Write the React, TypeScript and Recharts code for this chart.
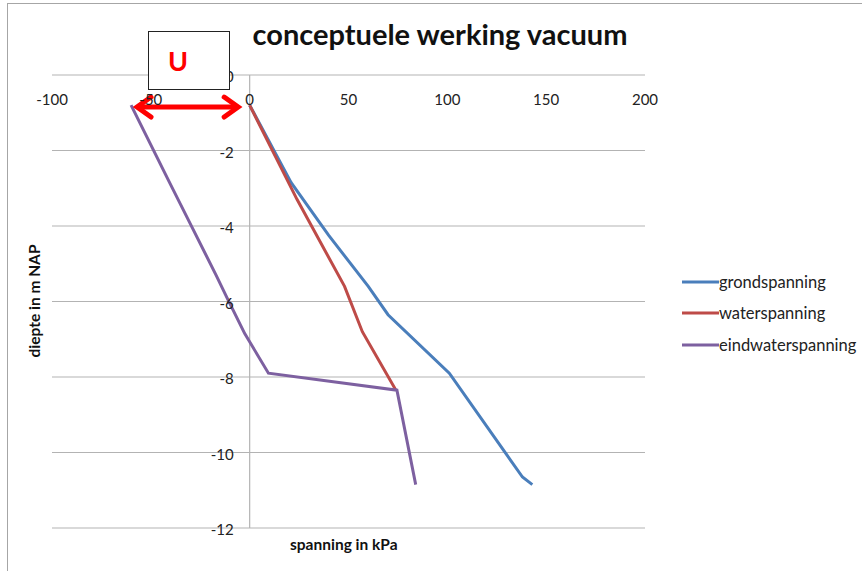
import React from 'react';
import { LineChart, Line, XAxis, YAxis, CartesianGrid, ReferenceLine } from 'recharts';

// depth (m NAP) and stress (kPa)
const depthGrond = [-0.8, -2.85, -4.25, -5.6, -6.35, -7.9, -10.65, -10.85];
const grondspanning = [0, 21, 40, 60, 70, 101, 138, 143];

const depthWater = [-0.8, -3.3, -5.6, -6.8, -8.35];
const waterspanning = [0, 24, 48, 57, 74];

const depthEind = [-0.8, -2.85, -4.05, -5.3, -5.9, -6.85, -7.9, -8.35, -10.85];
const eindwaterspanning = [-60, -40.5, -29, -17, -11.5, -2.5, 9.5, 74.5, 84];

const xTicks = [-100, -50, 0, 50, 100, 150, 200];
const yTicks = [0, -2, -4, -6, -8, -10, -12];

const seriesNames = ['grondspanning', 'waterspanning', 'eindwaterspanning'];
const seriesColors = ['#4A7EBB', '#BE4B48', '#7D60A0'];

// arrow annotation (U) from eindwaterspanning start to 0
const arrowFrom = { x: -58, y: -0.85 };
const arrowTo = { x: -4.8, y: -0.85 };

const toPoints = (xs: number[], ys: number[]) => xs.map((x, i) => ({ x, y: ys[i] }));
const grondData = toPoints(grondspanning, depthGrond);
const waterData = toPoints(waterspanning, depthWater);
const eindData = toPoints(eindwaterspanning, depthEind);

const W = 862;
const H = 571;
const PLOT_TOP = 75;
const PLOT_LEFT = 52;
const AX_H = 30;
const AX_W = 30;
const M = { top: PLOT_TOP - AX_H, right: 217, bottom: 43, left: PLOT_LEFT - AX_W };
const PLOT_W = W - PLOT_LEFT - M.right;
const ZERO_X = PLOT_LEFT + (PLOT_W * 100) / 300;
const FONT = 'Lato, "Open Sans", sans-serif';

const renderXTick = (props: any) => {
  const { x, payload } = props;
  return (
    <text x={x} y={PLOT_TOP + 24} textAnchor="middle" dominantBaseline="central" fontSize={15} fill="#222" fontFamily={FONT}>
      {payload.value}
    </text>
  );
};

const renderYTick = (props: any) => {
  const { y, payload } = props;
  return (
    <text x={ZERO_X - 16} y={y + 1} textAnchor="end" dominantBaseline="central" fontSize={15} fill="#222" fontFamily={FONT}>
      {payload.value}
    </text>
  );
};

const ArrowShape = (props: any) => {
  const { x1, y1, x2, y2 } = props;
  if (x1 == null) return null;
  const h = 16;
  const w = 10;
  return (
    <g>
      <line x1={x1 + 4} y1={y1} x2={x2 - 4} y2={y2} stroke="#FF0000" strokeWidth={5} />
      <polyline points={`${x1 + h},${y1 - w} ${x1 + 2},${y1} ${x1 + h},${y1 + w}`} fill="none" stroke="#FF0000" strokeWidth={5} strokeLinejoin="miter" strokeLinecap="round" />
      <polyline points={`${x2 - h},${y2 - w} ${x2 - 2},${y2} ${x2 - h},${y2 + w}`} fill="none" stroke="#FF0000" strokeWidth={5} strokeLinejoin="miter" strokeLinecap="round" />
    </g>
  );
};

export default function App() {
  return (
    <div style={{ position: 'absolute', left: 0, top: 0, width: W, height: H, background: '#fff', overflow: 'hidden' }}>
      <div style={{ position: 'absolute', left: 7, top: 3, width: W, height: H, borderTop: '1.5px solid #a6a6a6', borderLeft: '1.5px solid #a6a6a6' }} />
      <LineChart width={W} height={H} margin={M}>
        <CartesianGrid horizontal vertical={false} stroke="#b3b3b3" strokeWidth={1.2} />
        <XAxis
          type="number"
          dataKey="x"
          domain={[-100, 200]}
          ticks={xTicks}
          orientation="top"
          height={AX_H}
          axisLine={false}
          tickLine={false}
          tick={renderXTick}
          interval={0}
        />
        <YAxis
          type="number"
          dataKey="y"
          domain={[-12, 0]}
          ticks={yTicks}
          width={AX_W}
          axisLine={false}
          tickLine={false}
          tick={renderYTick}
          interval={0}
        />
        <ReferenceLine x={0} stroke="#b3b3b3" strokeWidth={1.2} />
        <Line data={grondData} dataKey="y" name={seriesNames[0]} type="linear" stroke={seriesColors[0]} strokeWidth={3} dot={false} isAnimationActive={false} />
        <Line data={waterData} dataKey="y" name={seriesNames[1]} type="linear" stroke={seriesColors[1]} strokeWidth={3} dot={false} isAnimationActive={false} />
        <Line data={eindData} dataKey="y" name={seriesNames[2]} type="linear" stroke={seriesColors[2]} strokeWidth={3} dot={false} isAnimationActive={false} />
        <ReferenceLine segment={[arrowFrom, arrowTo]} shape={<ArrowShape />} ifOverflow="visible" />
      </LineChart>
      <div style={{ position: 'absolute', left: 682, top: 266, fontFamily: FONT, fontSize: 16.5, color: '#222' }}>
        {seriesNames.map((n, i) => (
          <div key={n} style={{ display: 'flex', alignItems: 'center', height: 31.5 }}>
            <svg width={37} height={6}>
              <line x1={0} y1={3} x2={37} y2={3} stroke={seriesColors[i]} strokeWidth={3} />
            </svg>
            <span>{n}</span>
          </div>
        ))}
      </div>
      <div style={{ position: 'absolute', left: 0, width: 880, top: 16, textAlign: 'center', fontFamily: FONT, fontWeight: 700, fontSize: 29, color: '#111' }}>
        conceptuele werking vacuum
      </div>
      <div style={{ position: 'absolute', left: 290, top: 535, fontFamily: FONT, fontWeight: 700, fontSize: 15.5, color: '#111', whiteSpace: 'nowrap' }}>
        spanning in kPa
      </div>
      <div style={{ position: 'absolute', left: 34, top: 301, transform: 'translate(-50%, -50%) rotate(-90deg)', fontFamily: FONT, fontWeight: 700, fontSize: 15.5, color: '#111', whiteSpace: 'nowrap' }}>
        diepte in m NAP
      </div>
      <div style={{ position: 'absolute', left: 148, top: 31, width: 82, height: 59, border: '1px solid #222', background: '#fff', boxSizing: 'border-box' }}>
        <div style={{ position: 'absolute', left: 19, top: 12, fontFamily: FONT, fontWeight: 700, fontSize: 27, color: '#FF0000' }}>U</div>
      </div>
    </div>
  );
}
